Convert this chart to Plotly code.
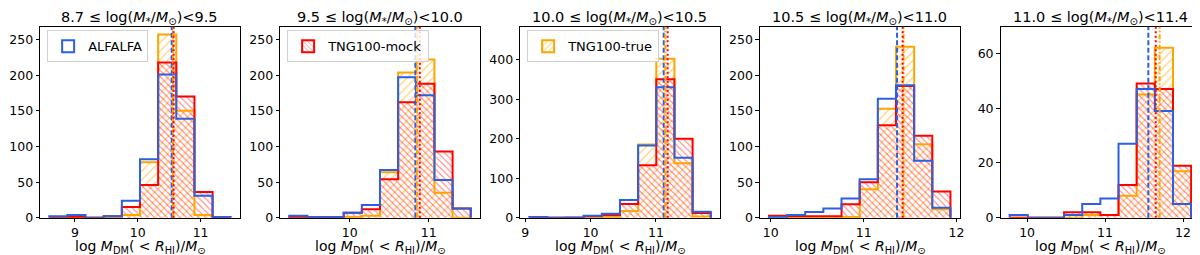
import numpy as np
import plotly.graph_objects as go

# ---------------- data ----------------
panel_titles = [
    "8.7 ≤ log(<i>M</i><sub>*</sub>/<i>M</i><sub>⊙</sub>)&lt;9.5",
    "9.5 ≤ log(<i>M</i><sub>*</sub>/<i>M</i><sub>⊙</sub>)&lt;10.0",
    "10.0 ≤ log(<i>M</i><sub>*</sub>/<i>M</i><sub>⊙</sub>)&lt;10.5",
    "10.5 ≤ log(<i>M</i><sub>*</sub>/<i>M</i><sub>⊙</sub>)&lt;11.0",
    "11.0 ≤ log(<i>M</i><sub>*</sub>/<i>M</i><sub>⊙</sub>)&lt;11.4",
]
x_label = "log <i>M</i><sub>DM</sub>( &lt; <i>R</i><sub>HI</sub>)/<i>M</i><sub>⊙</sub>"

# histogram bin range (10 bins each)
bin_lo = [8.59, 9.233, 9.06, 9.98, 9.776]
bin_hi = [11.48, 11.531, 11.84, 11.935, 12.104]

alfalfa_counts = [
    [2, 4, 0, 2, 24, 82, 201, 139, 31, 1],
    [3, 1, 1, 7, 18, 67, 197, 172, 53, 13],
    [2, 0, 1, 5, 10, 45, 183, 330, 152, 15],
    [1, 4, 8, 13, 27, 54, 167, 186, 80, 14],
    [1, 0, 0, 1, 5, 7, 27, 47, 39, 5],
]
mock_counts = [
    [0, 1, 0, 2, 15, 46, 218, 170, 36, 0],
    [1, 0, 0, 7, 12, 54, 162, 188, 93, 13],
    [0, 0, 0, 4, 7, 35, 133, 350, 200, 12],
    [3, 2, 2, 2, 19, 50, 130, 185, 115, 37],
    [0, 0, 0, 2, 2, 1, 12, 49, 47, 19],
]
true_counts = [
    [0, 0, 0, 0, 4, 78, 257, 150, 4, 0],
    [0, 0, 0, 1, 3, 64, 204, 222, 35, 0],
    [0, 0, 0, 1, 2, 17, 185, 402, 138, 3],
    [0, 0, 0, 0, 1, 40, 153, 240, 103, 12],
    [0, 0, 0, 0, 1, 1, 8, 45, 62, 17],
]
median_alfalfa = [10.54, 10.83, 11.12, 11.36, 11.555]
median_mock = [10.57, 10.886, 11.18, 11.42, 11.65]
median_true = [10.56, 10.85, 11.145, 11.43, 11.70]

y_max = [268, 268, 483, 268, 69.7]
y_dtick = [50, 50, 100, 50, 20]
x_ticks = [[9, 10, 11], [10, 11], [9, 10, 11], [10, 11, 12], [10, 11, 12]]

series_names = ["ALFALFA", "TNG100-mock", "TNG100-true"]

# ---------------- style ----------------
BLUE = "#2a60e4"
RED = "#ff0000"
ORANGE = "#ffa500"
FONT = "DejaVu Sans"
W, H = 1200, 255
ax_left = [32.3, 273.3, 514.3, 755.0, 996.7]
ax_w = 200.5
ax_top, ax_bot = 19.3, 215.7

fig = go.Figure()


def step_xy(edges, counts):
    xs = [edges[0]] + list(edges) + [edges[-1]]
    ys = [0] + list(counts) + [counts[-1], 0]
    return xs, ys


shapes = []
annotations = []
for i in range(5):
    ax = "" if i == 0 else str(i + 1)
    xa, ya = "x" + ax, "y" + ax
    edges = np.linspace(bin_lo[i], bin_hi[i], 11)
    centers = 0.5 * (edges[:-1] + edges[1:])
    width = edges[1] - edges[0]

    # hatched fills
    fig.add_trace(go.Bar(
        x=centers, y=true_counts[i], width=width, xaxis=xa, yaxis=ya,
        marker=dict(color="rgba(0,0,0,0)", line=dict(width=0),
                    pattern=dict(shape="/", fgcolor=ORANGE, bgcolor="rgba(0,0,0,0)",
                                 size=6, solidity=0.22, fillmode="overlay")),
        showlegend=False, hoverinfo="skip"))
    fig.add_trace(go.Bar(
        x=centers, y=mock_counts[i], width=width, xaxis=xa, yaxis=ya,
        marker=dict(color="rgba(0,0,0,0)", line=dict(width=0),
                    pattern=dict(shape="\\", fgcolor=RED, bgcolor="rgba(0,0,0,0)",
                                 size=4.5, solidity=0.25, fillmode="overlay")),
        showlegend=False, hoverinfo="skip"))

    # step outlines
    for counts, col in [(true_counts[i], ORANGE), (mock_counts[i], RED), (alfalfa_counts[i], BLUE)]:
        xs, ys = step_xy(edges, counts)
        fig.add_trace(go.Scatter(x=xs, y=ys, mode="lines", xaxis=xa, yaxis=ya,
                                 line=dict(color=col, width=2, shape="hv"),
                                 showlegend=False, hoverinfo="skip"))

    # median lines
    for val, col, dash in [(median_alfalfa[i], BLUE, "5px,2.5px"),
                           (median_true[i], ORANGE, "5px,2px,1.5px,2px"),
                           (median_mock[i], RED, "2px,2.5px")]:
        shapes.append(dict(type="line", xref=xa, yref=ya + " domain", x0=val, x1=val,
                           y0=0, y1=1, line=dict(color=col, width=2, dash=dash), layer="above"))

    span = bin_hi[i] - bin_lo[i]
    x0p = ax_left[i] / W
    x1p = (ax_left[i] + ax_w) / W
    fig.update_layout(**{
        "xaxis" + ax: dict(domain=[x0p, x1p], anchor=ya,
                           range=[bin_lo[i] - 0.05 * span, bin_hi[i] + 0.05 * span],
                           tickvals=x_ticks[i], ticks="outside", ticklen=3.5, tickwidth=1,
                           tickcolor="black", showline=True, linecolor="black", linewidth=1,
                           mirror=True, showgrid=False, zeroline=False,
                           tickfont=dict(family=FONT, size=12.5, color="black")),
        "yaxis" + ax: dict(domain=[(H - ax_bot) / H, (H - ax_top) / H], anchor=xa,
                           range=[0, y_max[i]], dtick=y_dtick[i], tick0=0,
                           ticks="outside", ticklen=3.5, tickwidth=1, tickcolor="black",
                           showline=True, linecolor="black", linewidth=1, mirror=True,
                           showgrid=False, zeroline=False,
                           tickfont=dict(family=FONT, size=12.5, color="black")),
    })
    annotations.append(dict(text=panel_titles[i], xref="paper", yref="paper",
                            x=(x0p + x1p) / 2, y=1.0, xanchor="center",
                            yanchor="top", showarrow=False, borderpad=0,
                            font=dict(family=FONT, size=14.5, color="black")))
    annotations.append(dict(text=x_label, xref="paper", yref="paper",
                            x=(x0p + x1p) / 2, y=-0.006, xanchor="center",
                            yanchor="bottom", showarrow=False, borderpad=0,
                            font=dict(family=FONT, size=14, color="black")))

# legend-only entries
legend_specs = [
    (series_names[0], "legend", "x", "y",
     dict(color="rgba(0,0,0,0)", line=dict(color=BLUE, width=2))),
    (series_names[1], "legend2", "x2", "y2",
     dict(color="rgba(0,0,0,0)", line=dict(color=RED, width=2),
          pattern=dict(shape="\\", fgcolor=RED, bgcolor="rgba(0,0,0,0)", size=4, solidity=0.25,
                       fillmode="overlay"))),
    (series_names[2], "legend3", "x3", "y3",
     dict(color="rgba(0,0,0,0)", line=dict(color=ORANGE, width=2),
          pattern=dict(shape="/", fgcolor=ORANGE, bgcolor="rgba(0,0,0,0)", size=5, solidity=0.25,
                       fillmode="overlay"))),
]
for name, lg, xa, ya, mk in legend_specs:
    fig.add_trace(go.Bar(x=[None], y=[None], name=name, legend=lg, xaxis=xa, yaxis=ya,
                         marker=mk, showlegend=True))

leg_common = dict(bgcolor="rgba(255,255,255,0.8)", bordercolor="#d0d0d0", borderwidth=1,
                  font=dict(family=FONT, size=13, color="black"), xanchor="left",
                  yanchor="top", xref="paper", yref="paper")
fig.update_layout(
    legend=dict(x=(ax_left[0] + 7) / W, y=(H - 23) / H, **leg_common),
    legend2=dict(x=(ax_left[1] + 7) / W, y=(H - 23) / H, **leg_common),
    legend3=dict(x=(ax_left[2] + 7) / W, y=(H - 23) / H, **leg_common),
)

fig.update_layout(width=W, height=H, autosize=False,
                  margin=dict(l=0, r=0, t=0, b=0),
                  plot_bgcolor="white", paper_bgcolor="white",
                  barmode="overlay", bargap=0,
                  shapes=shapes, annotations=annotations,
                  font=dict(family=FONT, size=12, color="black"))

fig.write_html("out.html")
